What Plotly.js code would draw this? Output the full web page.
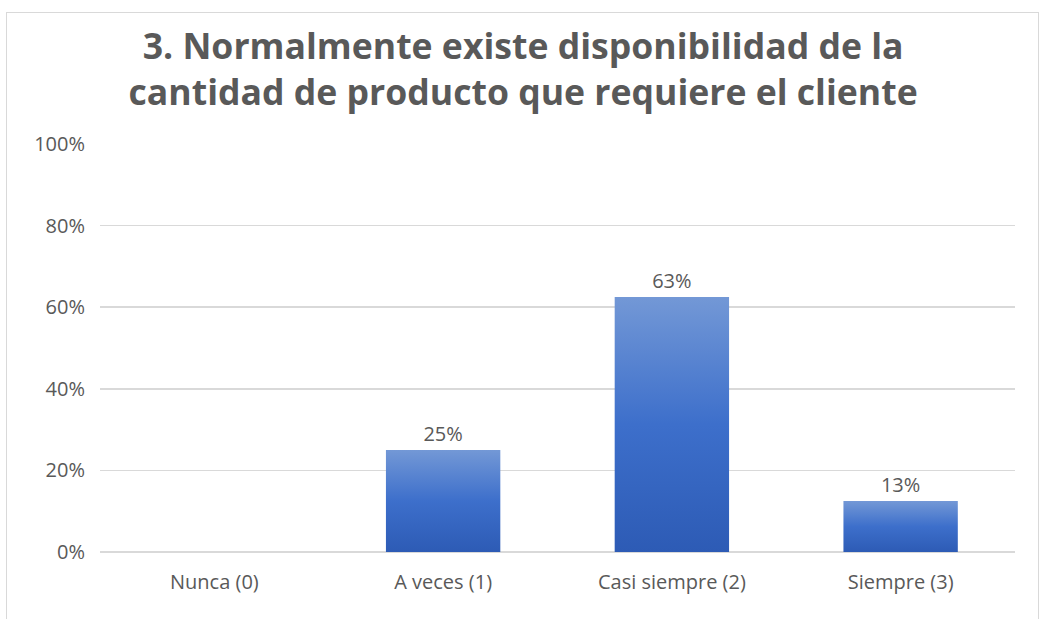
<!DOCTYPE html>
<html>
<head>
<meta charset="utf-8">
<script src="https://cdn.plot.ly/plotly-3.0.1.min.js"></script>
<style>
  html, body { margin: 0; padding: 0; background: #fff; }
  #wrap { position: relative; width: 1040px; height: 619px; overflow: hidden; }
  #chart { width: 1040px; height: 619px; }
  #frame { position: absolute; left: 6px; top: 12px; width: 1033px; height: 620px; border: 1px solid #d9d9d9; pointer-events: none; box-sizing: border-box; }
</style>
</head>
<body>
<div id="wrap">
  <div id="chart"></div>
  <div id="frame"></div>
</div>
<script>
const categories = ['Nunca (0)', 'A veces (1)', 'Casi siempre (2)', 'Siempre (3)'];
const values = [0, 25, 62.5, 12.5];
const labels = values.map(v => v > 0 ? Math.round(v) + '%' : '');
const yTickVals = [0, 20, 40, 60, 80, 100];
const titleLines = ['3. Normalmente existe disponibilidad de la', 'cantidad de producto que requiere el cliente'];

const textColor = '#595959';
const font = 'Open Sans, Noto Sans, sans-serif';

const trace = {
  type: 'bar',
  x: categories,
  y: values,
  text: labels,
  textposition: 'outside',
  textfont: { family: font, size: 20, color: textColor },
  cliponaxis: false,
  marker: { color: '#3d6fcb', line: { width: 0 } },
  hoverinfo: 'none'
};

const layout = {
  width: 1040,
  height: 619,
  margin: { l: 100, r: 25, t: 144, b: 67 },
  paper_bgcolor: '#ffffff',
  plot_bgcolor: '#ffffff',
  bargap: 0.5,
  showlegend: false,
  title: {
    text: titleLines.join('<br>'),
    font: { family: font, size: 35.6, color: textColor, weight: 700 },
    x: 0.503, xref: 'container', xanchor: 'center',
    y: 0.905, yref: 'container', yanchor: 'middle'
  },
  xaxis: {
    type: 'category',
    showgrid: false,
    zeroline: false,
    showline: false,
    ticks: '',
    ticklabelstandoff: 16,
    tickfont: { family: font, size: 20, color: textColor }
  },
  yaxis: {
    range: [0, 100],
    tickvals: yTickVals,
    ticktext: yTickVals.map(v => v + '%'),
    showgrid: true,
    gridcolor: '#d9d9d9',
    gridwidth: 1.5,
    zeroline: true,
    zerolinecolor: '#d9d9d9',
    zerolinewidth: 1.5,
    showline: false,
    ticks: '',
    ticklabelstandoff: 14,
    tickfont: { family: font, size: 20, color: textColor }
  }
};

Plotly.newPlot('chart', [trace], layout, { displayModeBar: false, staticPlot: true }).then(gd => {
  const svg = gd.querySelector('svg.main-svg');
  const ns = 'http://www.w3.org/2000/svg';
  let defs = svg.querySelector('defs');
  if (!defs) { defs = document.createElementNS(ns, 'defs'); svg.insertBefore(defs, svg.firstChild); }
  const g = document.createElementNS(ns, 'linearGradient');
  g.setAttribute('id', 'barGrad');
  g.setAttribute('x1', '0'); g.setAttribute('y1', '0');
  g.setAttribute('x2', '0'); g.setAttribute('y2', '1');
  [['0', '#7398d6'], ['0.5', '#3d6fcb'], ['1', '#2d5bb5']].forEach(([o, c]) => {
    const s = document.createElementNS(ns, 'stop');
    s.setAttribute('offset', o); s.setAttribute('stop-color', c);
    g.appendChild(s);
  });
  defs.appendChild(g);
  gd.querySelectorAll('.barlayer .point path').forEach(p => { p.style.fill = 'url(#barGrad)'; });
});
</script>
</body>
</html>
